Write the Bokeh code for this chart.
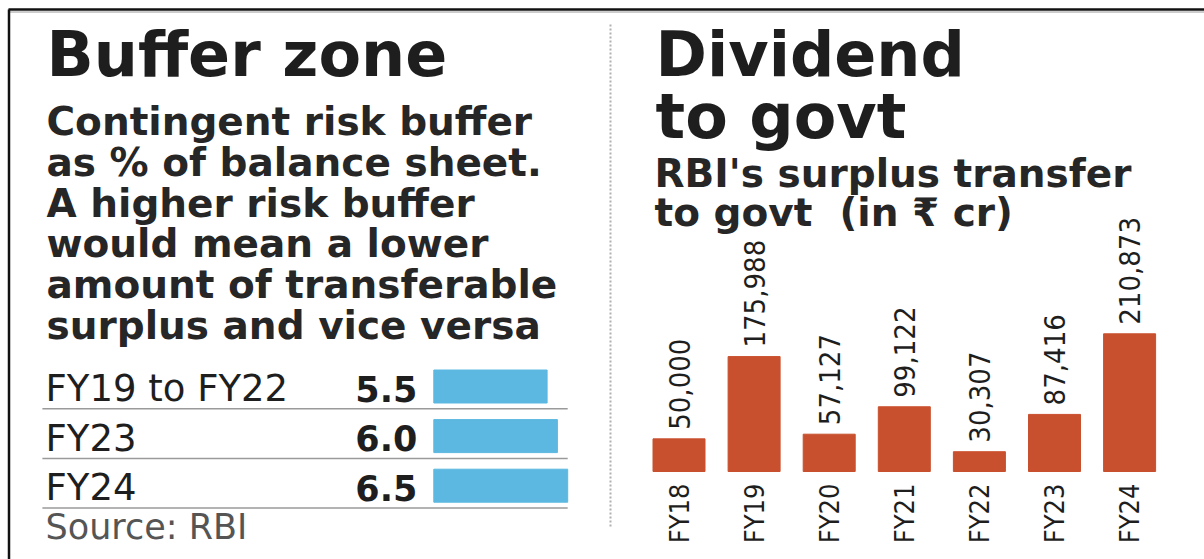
import math
from bokeh.plotting import figure
from bokeh.models import Range1d
from bokeh.core.properties import value
from bokeh.embed import file_html
from bokeh.resources import INLINE

# ---------------- data ----------------
buffer_periods = ["FY19 to FY22", "FY23", "FY24"]
buffer_pct = [5.5, 6.0, 6.5]

years = ["FY18", "FY19", "FY20", "FY21", "FY22", "FY23", "FY24"]
surplus_cr = [50000, 175988, 57127, 99122, 30307, 87416, 210873]

# ---------------- canvas ----------------
W, H = 1204, 559
p = figure(width=W, height=H, x_range=Range1d(0, W), y_range=Range1d(H, 0),
           output_backend="svg", toolbar_location=None, min_border=0,
           background_fill_color="white", border_fill_color="white")
p.axis.visible = False
p.grid.visible = False
p.outline_line_color = None

INK = "#1e1e1e"
SANS = value("DejaVu Sans")
NARROW = value("DejaVu Sans Condensed")

# ---------- scales for the two small charts (screen-pixel layout) ----------
hb_x0, hb_px_per_unit = 433.3, 20.6
hb_row0, hb_row_pitch = 386.0, 49.6
p.extra_x_ranges["pct"] = Range1d(-hb_x0 / hb_px_per_unit, (W - hb_x0) / hb_px_per_unit)
p.extra_y_ranges["row"] = Range1d((H - hb_row0) / hb_row_pitch, -hb_row0 / hb_row_pitch)

vb_x0, vb_pitch = 678.5, 75.1
vb_base, vb_max_top = 471.0, 333.3
k = (vb_base - vb_max_top) / max(surplus_cr)
p.extra_x_ranges["yr"] = Range1d(-vb_x0 / vb_pitch, (W - vb_x0) / vb_pitch)
p.extra_y_ranges["amt"] = Range1d(-(H - vb_base) / k, vb_base / k)

# ---------------- frame & divider ----------------
p.segment(x0=[8], y0=[9], x1=[W], y1=[9], line_color="#111111", line_width=2.5)
p.segment(x0=[8], y0=[11.5], x1=[W], y1=[11.5], line_color="#9a9a9a", line_width=1)
p.segment(x0=[8.5], y0=[9], x1=[8.5], y1=[H], line_color="#111111", line_width=2.5)
p.segment(x0=[610], y0=[24], x1=[610], y1=[528], line_color="#b0b0b0",
          line_width=2, line_dash="2 2")

# ---------------- left panel text ----------------
p.text(x=[46], y=[54], text=["Buffer zone"], text_font=SANS, text_font_style="bold",
       text_font_size="62px", text_color=INK, text_baseline="alphabetic")
left_sub = ["Contingent risk buffer", "as % of balance sheet.", "A higher risk buffer",
            "would mean a lower", "amount of transferable", "surplus and vice versa"]
p.text(x=[46] * 6, y=[121 + 40.8 * i for i in range(6)], text=left_sub, text_font=SANS,
       text_font_style="bold", text_font_size="39px", text_color="#262626",
       text_baseline="alphabetic")

rows = list(range(len(buffer_periods)))
p.hbar(y=rows, left=0, right=buffer_pct, height=33 / hb_row_pitch, color="#5cb8e0",
       x_range_name="pct", y_range_name="row")
p.text(x=[45] * 3, y=rows, text=buffer_periods, text_font=SANS, text_font_size="37px",
       text_color=INK, text_baseline="middle", y_offset=2, y_range_name="row")
p.text(x=[-0.8] * 3, y=rows, text=[f"{v:.1f}" for v in buffer_pct], text_font=SANS,
       text_font_style="bold", text_font_size="35px", text_color=INK,
       text_align="right", text_baseline="middle", y_offset=2,
       x_range_name="pct", y_range_name="row")
sep_rows = [r + 0.45 for r in rows]
p.segment(x0=[-19.0] * 3, y0=sep_rows, x1=[max(buffer_pct)] * 3, y1=sep_rows,
          line_color="#9a9a9a", line_width=1.5, x_range_name="pct", y_range_name="row")
p.text(x=[45], y=[526], text=["Source: RBI"], text_font=SANS, text_font_size="35px",
       text_color="#555555", text_baseline="alphabetic")

# ---------------- right panel text ----------------
p.text(x=[655, 655], y=[54, 116], text=["Dividend", "to govt"], text_font=SANS,
       text_font_style="bold", text_font_size="62px", text_color=INK,
       text_baseline="alphabetic")
p.text(x=[654, 654], y=[173, 212],
       text=["RBI's surplus transfer", "to govt\u00a0\u00a0(in \u20b9 cr)"],
       text_font=SANS, text_font_style="bold", text_font_size="39px", text_color="#262626",
       text_baseline="alphabetic")

idx = list(range(len(years)))
p.vbar(x=idx, bottom=0, top=surplus_cr, width=52 / vb_pitch, color="#c9502e",
       x_range_name="yr", y_range_name="amt")
p.text(x=idx, y=surplus_cr, text=[f"{v:,}" for v in surplus_cr], angle=math.pi / 2,
       text_align="left", text_baseline="middle", y_offset=-9, text_font=NARROW,
       text_font_size="29px", text_color=INK, x_range_name="yr", y_range_name="amt")
p.text(x=idx, y=[0] * len(years), text=years, angle=math.pi / 2, text_align="right",
       text_baseline="middle", y_offset=12, text_font=NARROW, text_font_size="27px",
       text_color=INK, x_range_name="yr", y_range_name="amt")

open("out.html", "w").write(file_html(p, INLINE))
